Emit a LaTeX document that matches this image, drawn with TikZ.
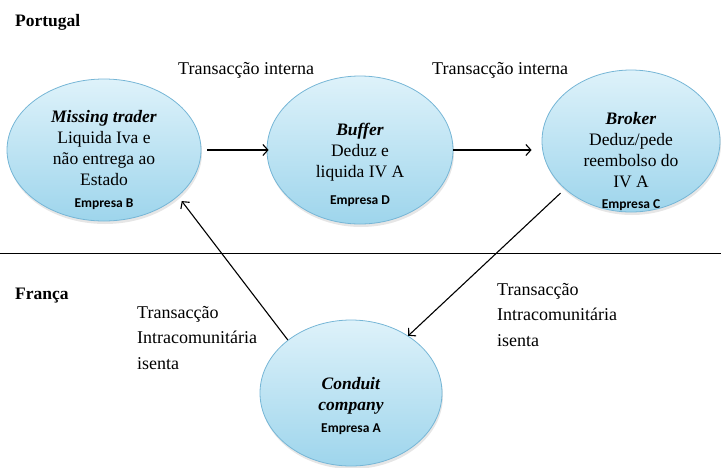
\documentclass[tikz,border=0pt]{standalone}
\usepackage{fontspec}
\setmainfont{Liberation Serif}
\newfontfamily\empresafont{Carlito}
\usetikzlibrary{shapes.geometric,arrows.meta,shadows}

\definecolor{bolaTopo}{RGB}{222,242,250}
\definecolor{bolaBase}{RGB}{158,213,236}
\definecolor{bolaBorda}{RGB}{118,182,214}

\newcommand{\empresa}[1]{{\empresafont\bfseries\fontsize{13.5}{15}\selectfont #1}}

\begin{document}
\begin{tikzpicture}[x=1pt, y=-1pt,
	bola/.style={draw=bolaBorda, line width=0.8pt, ellipse, top color=bolaTopo, bottom color=bolaBase,
		drop shadow={opacity=0.2, shadow xshift=1pt, shadow yshift=-3pt}, inner sep=0pt},
	texto/.style={align=center, inner sep=0pt, font=\fontsize{17.5}{21}\selectfont},
	legenda/.style={align=left, anchor=north west, inner sep=0pt, font=\fontsize{18}{25.5}\selectfont},
	pais/.style={anchor=west, inner sep=0pt, font=\bfseries\fontsize{17.5}{20}\selectfont},
	fluxo/.style={->, >={Straight Barb[length=5pt, width=11pt]}, line width=1.1pt}]
	\useasboundingbox (0,0) rectangle (721,467);

	% paises
	\node[pais] (PT) at (15,22) {Portugal};
	\node[pais] (FR) at (15,296) {França};
	\coordinate (linhaE) at (0,253);
	\coordinate (linhaD) at (721,253);
	\draw[line width=0.6pt] (linhaE) -- (linhaD);

	% empresas
	\node[bola, minimum width=194pt, minimum height=142pt,
		label={[texto, yshift=-10pt]center:{\textbf{\textit{Missing trader}}\\Liquida Iva e\\não entrega ao\\Estado\\[1pt]\empresa{Empresa B}}}] (B) at (104,150) {};
	\node[bola, minimum width=186pt, minimum height=148pt,
		label={[texto, yshift=-15pt]center:{\textbf{\textit{Buffer}}\\Deduz e\\liquida IV A\\[6pt]\empresa{Empresa D}}}] (D) at (360,150) {};
	\node[bola, minimum width=178pt, minimum height=142pt,
		label={[texto, yshift=-20pt]center:{\textbf{\textit{Broker}}\\Deduz/pede\\reembolso do\\IV A\\[0pt]\empresa{Empresa C}}}] (C) at (631,141) {};
	\node[bola, minimum width=182pt, minimum height=146pt,
		label={[texto, yshift=-13pt]center:{\textbf{\textit{Conduit}}\\\textbf{\textit{company}}\\[1pt]\empresa{Empresa A}}}] (A) at (351,393) {};

	% transaccoes
	\node[legenda, anchor=west] (TI1) at (178,70) {Transacção interna};
	\node[legenda, anchor=west] (TI2) at (432,70) {Transacção interna};
	\node[legenda] (TX1) at (137,306) {Transacção\\Intracomunitária\\isenta};
	\node[legenda] (TX2) at (497,283) {Transacção\\Intracomunitária\\isenta};

	\draw[fluxo, shorten <=6pt, shorten >=-2pt] (B.east) -- (D.west);
	\draw[fluxo, shorten >=10pt] (D.east) -- (D.east -| C.west);
	\draw[fluxo, shorten <=6pt] (C.216) -- (A.45);
	\draw[fluxo, shorten >=6pt] (A.140) -- (B.-32);
\end{tikzpicture}
\end{document}
